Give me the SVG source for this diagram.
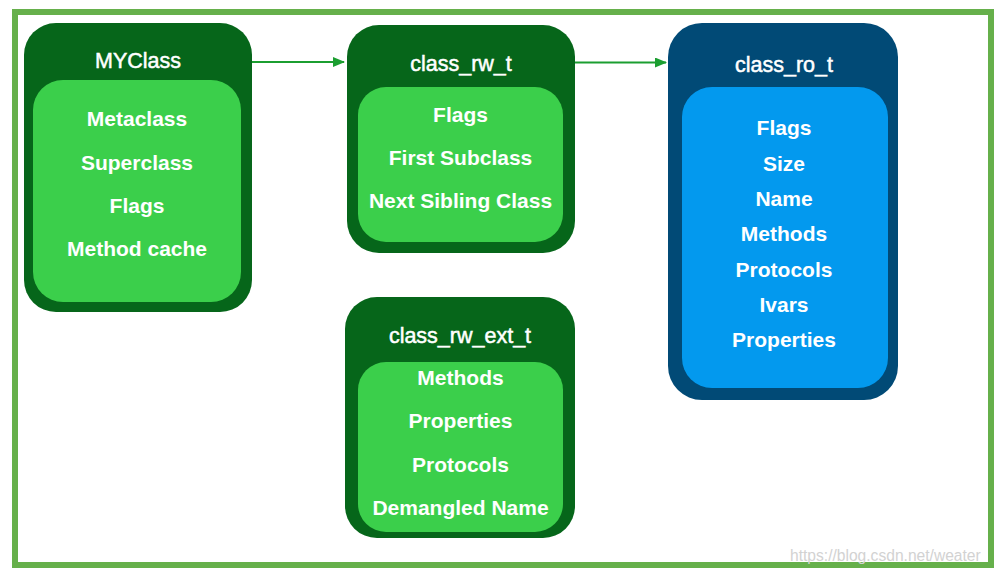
<svg xmlns="http://www.w3.org/2000/svg" width="998" height="575" viewBox="0 0 998 575">
<defs>
<style>
.frame{fill:none;stroke:#66b04b;stroke-width:6}
.og{fill:#06661a}
.ig{fill:#3bcf4b}
.ob{fill:#014a76}
.ib{fill:#0399ee}
.t{font-family:"Liberation Sans",Arial,Helvetica,sans-serif;fill:#fff;text-anchor:middle}
.title{font-size:21.5px;font-weight:400;stroke:#fff;stroke-width:0.5}
.item{font-size:21px;font-weight:700}
.conn{stroke:#1b9e30;stroke-width:2;fill:none}
.wm{font-family:"Liberation Sans",Arial,sans-serif;font-size:15.6px;fill:#d2d2d2}
</style>
<marker id="ah" markerWidth="12" markerHeight="10" refX="11" refY="5" orient="auto" markerUnits="userSpaceOnUse">
<path d="M0,0 L12,5 L0,10 Z" fill="#1b9e30"/>
</marker>
</defs>
<rect x="0" y="0" width="998" height="575" fill="#fff"/>
<rect class="frame" x="15" y="12" width="976" height="553"/>

<g id="connectors">
<line class="conn" x1="252" y1="62" x2="344" y2="62" marker-end="url(#ah)"/>
<line class="conn" x1="575" y1="62.5" x2="666" y2="62.5" marker-end="url(#ah)"/>
</g>

<g id="MYClass">
<rect class="og" x="24" y="23" width="228" height="289" rx="32"/>
<rect class="ig" x="33" y="80" width="208" height="222" rx="30"/>
<text class="t title" x="138" y="68">MYClass</text>
<text class="t item" x="137" y="126">Metaclass</text>
<text class="t item" x="137" y="169.5">Superclass</text>
<text class="t item" x="137" y="213">Flags</text>
<text class="t item" x="137" y="256">Method cache</text>
</g>

<g id="class_rw_t">
<rect class="og" x="347" y="25" width="228" height="228" rx="32"/>
<rect class="ig" x="358" y="87" width="205" height="155" rx="28"/>
<text class="t title" x="461" y="71">class_rw_t</text>
<text class="t item" x="460.5" y="122">Flags</text>
<text class="t item" x="460.5" y="165">First Subclass</text>
<text class="t item" x="460.5" y="208">Next Sibling Class</text>
</g>

<g id="class_ro_t">
<rect class="ob" x="668" y="23" width="230" height="377" rx="34"/>
<rect class="ib" x="682" y="87" width="206" height="301" rx="30"/>
<text class="t title" x="784" y="72">class_ro_t</text>
<text class="t item" x="784" y="135">Flags</text>
<text class="t item" x="784" y="170.5">Size</text>
<text class="t item" x="784" y="206">Name</text>
<text class="t item" x="784" y="241">Methods</text>
<text class="t item" x="784" y="276.5">Protocols</text>
<text class="t item" x="784" y="312">Ivars</text>
<text class="t item" x="784" y="347">Properties</text>
</g>

<g id="class_rw_ext_t">
<rect class="og" x="345" y="297" width="230" height="241" rx="32"/>
<rect class="ig" x="358" y="362" width="205" height="170" rx="28"/>
<text class="t title" x="460" y="343">class_rw_ext_t</text>
<text class="t item" x="460.5" y="385">Methods</text>
<text class="t item" x="460.5" y="428">Properties</text>
<text class="t item" x="460.5" y="471.5">Protocols</text>
<text class="t item" x="460.5" y="515">Demangled Name</text>
</g>

<text class="wm" x="790" y="561">https://blog.csdn.net/weater</text>
</svg>
